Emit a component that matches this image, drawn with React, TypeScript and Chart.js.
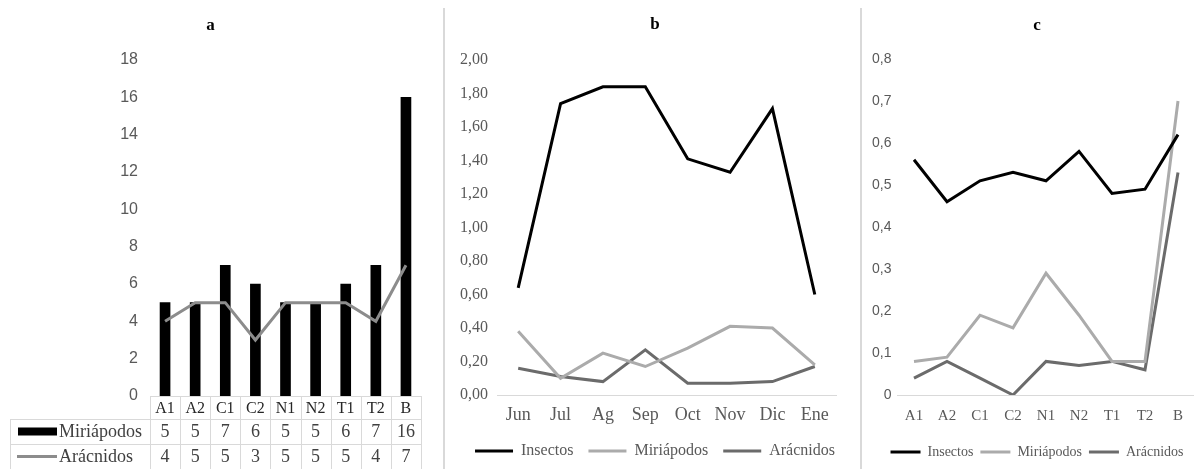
import React, { useEffect, useRef } from "react";
import { Chart, registerables } from "chart.js";

Chart.register(...registerables);

// ---------- Data ----------
const sitiosA = ["A1", "A2", "C1", "C2", "N1", "N2", "T1", "T2", "B"];
const miriapodosA = [5, 5, 7, 6, 5, 5, 6, 7, 16];
const aracnidosA = [4, 5, 5, 3, 5, 5, 5, 4, 7];

const meses = ["Jun", "Jul", "Ag", "Sep", "Oct", "Nov", "Dic", "Ene"];
const insectosB = [0.64, 1.74, 1.84, 1.84, 1.41, 1.33, 1.71, 0.6];
const miriapodosB = [0.38, 0.1, 0.25, 0.17, 0.28, 0.41, 0.4, 0.18];
const aracnidosB = [0.16, 0.11, 0.08, 0.27, 0.07, 0.07, 0.08, 0.17];

const sitiosC = ["A1", "A2", "C1", "C2", "N1", "N2", "T1", "T2", "B"];
const insectosC = [0.56, 0.46, 0.51, 0.53, 0.51, 0.58, 0.48, 0.49, 0.62];
const miriapodosC = [0.08, 0.09, 0.19, 0.16, 0.29, 0.19, 0.08, 0.08, 0.7];
const aracnidosC = [0.04, 0.08, 0.04, 0.0, 0.08, 0.07, 0.08, 0.06, 0.53];

// ---------- Styles ----------
const SERIF = '"Liberation Serif", "DejaVu Serif", serif';
const SANS = '"Liberation Sans", "DejaVu Sans", sans-serif';
const NEGRO = "#000000";
const GRIS_CLARO = "#ababab";
const GRIS_OSCURO = "#6b6b6b";
const GRIS_A = "#8c8c8c";
const TEXTO = "#595959";
const REJILLA = "#d9d9d9";

const fmt2 = (v: number) => v.toFixed(2).replace(".", ",");
const fmt1 = (v: number) => (v === 0 ? "0" : v.toFixed(1).replace(".", ","));

// Data table under panel a, aligned to the chart's category scale
const tablaPlugin = {
  id: "tablaDatos",
  afterDraw(chart: any) {
    const { ctx, chartArea } = chart;
    const xs = chart.scales.x;
    const labels: string[] = chart.data.labels;
    const n = labels.length;
    const w = (xs.right - xs.left) / n;
    const y0 = chartArea.bottom;
    const y1 = y0 + 23;
    const y2 = y1 + 25;
    const y3 = y2 + 25;
    const left = 10;
    ctx.save();
    ctx.strokeStyle = REJILLA;
    ctx.lineWidth = 1;
    ctx.beginPath();
    const seg = (a: number, b: number, c: number, d: number) => {
      ctx.moveTo(a, b);
      ctx.lineTo(c, d);
    };
    seg(xs.left, y0 + 0.5, xs.right, y0 + 0.5);
    seg(left, y1 + 0.5, xs.right, y1 + 0.5);
    seg(left, y2 + 0.5, xs.right, y2 + 0.5);
    seg(left, y3 + 0.5, xs.right, y3 + 0.5);
    seg(left + 0.5, y1, left + 0.5, y3);
    for (let k = 0; k <= n; k++) {
      const x = Math.round(xs.left + k * w) + 0.5;
      seg(x, y0, x, y3);
    }
    ctx.stroke();

    ctx.textAlign = "center";
    ctx.textBaseline = "middle";
    ctx.fillStyle = "#262626";
    ctx.font = `16px ${SERIF}`;
    labels.forEach((l, i) => ctx.fillText(l, xs.getPixelForValue(i), (y0 + y1) / 2 + 1));
    ctx.fillStyle = "#404040";
    ctx.font = `18px ${SERIF}`;
    const ds = chart.data.datasets;
    const bar = ds.find((d: any) => d.type === "bar");
    const line = ds.find((d: any) => d.type === "line");
    bar.data.forEach((v: number, i: number) => ctx.fillText(String(v), xs.getPixelForValue(i), (y1 + y2) / 2 + 1));
    line.data.forEach((v: number, i: number) => ctx.fillText(String(v), xs.getPixelForValue(i), (y2 + y3) / 2 + 1));

    // legend keys inside the table
    ctx.fillStyle = bar.backgroundColor;
    ctx.fillRect(18, (y1 + y2) / 2 - 4, 39, 8);
    ctx.strokeStyle = line.borderColor;
    ctx.lineWidth = 3;
    ctx.beginPath();
    ctx.moveTo(17, (y2 + y3) / 2);
    ctx.lineTo(57, (y2 + y3) / 2);
    ctx.stroke();
    ctx.textAlign = "left";
    ctx.fillStyle = "#404040";
    ctx.fillText(bar.label, 59, (y1 + y2) / 2 + 1);
    ctx.fillText(line.label, 59, (y2 + y3) / 2 + 1);
    ctx.restore();
  },
};

function ChartCanvas({ left, width, height, make }: { left: number; width: number; height: number; make: () => any }) {
  const ref = useRef<HTMLCanvasElement>(null);
  useEffect(() => {
    const chart = new Chart(ref.current as HTMLCanvasElement, make());
    return () => chart.destroy();
  }, []);
  return (
    <div style={{ position: "absolute", left, top: 0, width, height }}>
      <canvas ref={ref} width={width} height={height} style={{ width, height, display: "block" }} />
    </div>
  );
}

const titleOpts = (text: string, top: number, bottom: number) => ({
  display: true,
  text,
  color: NEGRO,
  font: { family: SERIF, size: 17, weight: "bold", lineHeight: 1.2 },
  padding: { top, bottom },
});

const legendOpts = (size: number, sample: number, pad: number) => ({
  display: true,
  position: "bottom",
  labels: {
    usePointStyle: true,
    pointStyle: "line",
    pointStyleWidth: sample,
    color: TEXTO,
    font: { family: SERIF, size },
    padding: pad,
  },
});

const lineDs = (label: string, data: number[], color: string) => ({
  label,
  data,
  borderColor: color,
  backgroundColor: color,
  borderWidth: 3,
  pointRadius: 0,
  tension: 0,
});

// invisible right-hand spacer axis so the full-width title/legend stay centred like the original
const spacer = (w: number) => ({
  type: "linear",
  position: "right",
  display: true,
  ticks: { display: false },
  grid: { display: false, drawTicks: false },
  border: { display: false },
  afterFit: (s: any) => {
    s.width = w;
  },
});

const configA = () => ({
  type: "bar",
  data: {
    labels: sitiosA,
    datasets: [
      { ...lineDs("Arácnidos", aracnidosA, GRIS_A), type: "line", order: 0 },
      { type: "bar", label: "Miriápodos", data: miriapodosA, backgroundColor: NEGRO, barThickness: 10, order: 1 },
    ],
  },
  options: {
    responsive: false,
    animation: false,
    devicePixelRatio: 1,
    layout: { padding: { left: 0, right: 21, top: 0, bottom: 73 } },
    plugins: {
      legend: { display: false },
      tooltip: { enabled: false },
      title: titleOpts("a", 15, 24.6),
    },
    scales: {
      x: { display: false },
      y: {
        min: 0,
        max: 18,
        ticks: { stepSize: 2, color: TEXTO, font: { family: SANS, size: 16 }, padding: 12 },
        grid: { display: false, drawTicks: false },
        border: { display: false },
        afterFit: (s: any) => {
          s.width = 150;
        },
      },
    },
  },
  plugins: [tablaPlugin],
});

const configB = () => ({
  type: "line",
  data: {
    labels: meses,
    datasets: [
      lineDs("Insectos", insectosB, NEGRO),
      lineDs("Miriápodos", miriapodosB, GRIS_CLARO),
      lineDs("Arácnidos", aracnidosB, GRIS_OSCURO),
    ],
  },
  options: {
    responsive: false,
    animation: false,
    devicePixelRatio: 1,
    layout: { padding: { left: 0, right: 0, top: 0, bottom: 0 } },
    plugins: {
      legend: legendOpts(16, 38, 15),
      tooltip: { enabled: false },
      title: titleOpts("b", 14, 25.6),
    },
    scales: {
      x: {
        offset: true,
        ticks: { color: TEXTO, font: { family: SERIF, size: 18 }, padding: 9 },
        grid: { display: false, drawTicks: false },
        border: { display: true, color: REJILLA, width: 1 },
        afterFit: (s: any) => {
          s.height = 33;
        },
      },
      y: {
        min: 0,
        max: 2,
        ticks: { stepSize: 0.2, color: TEXTO, font: { family: SERIF, size: 16 }, padding: 9, callback: (v: any) => fmt2(Number(v)) },
        grid: { display: false, drawTicks: false },
        border: { display: false },
        afterFit: (s: any) => {
          s.width = 52;
        },
      },
      derecha: spacer(29),
    },
  },
});

const configC = () => ({
  type: "line",
  data: {
    labels: sitiosC,
    datasets: [
      lineDs("Insectos", insectosC, NEGRO),
      lineDs("Miriápodos", miriapodosC, GRIS_CLARO),
      lineDs("Arácnidos", aracnidosC, GRIS_OSCURO),
    ],
  },
  options: {
    responsive: false,
    animation: false,
    devicePixelRatio: 1,
    layout: { padding: { left: 0, right: 0, top: 0, bottom: 0 } },
    plugins: {
      legend: legendOpts(14, 30, 7),
      tooltip: { enabled: false },
      title: titleOpts("c", 15, 23.6),
    },
    scales: {
      x: {
        offset: true,
        ticks: { color: TEXTO, font: { family: SERIF, size: 15 }, padding: 12 },
        grid: { display: false, drawTicks: false },
        border: { display: true, color: REJILLA, width: 1 },
        afterFit: (s: any) => {
          s.height = 43;
        },
      },
      y: {
        min: 0,
        max: 0.8,
        ticks: { stepSize: 0.1, color: TEXTO, font: { family: SANS, size: 14 }, padding: 6, callback: (v: any) => fmt1(Number(v)) },
        grid: { display: false, drawTicks: false },
        border: { display: false },
        afterFit: (s: any) => {
          s.width = 35.5;
        },
      },
      derecha: spacer(17.5),
    },
  },
});

export default function App() {
  return (
    <div style={{ position: "fixed", left: 0, top: 0, width: 1194, height: 469, background: "#fff", overflow: "hidden" }}>
      <ChartCanvas left={0} width={442} height={469} make={configA} />
      <div style={{ position: "absolute", left: 443, top: 8, width: 2, height: 461, background: REJILLA }} />
      <ChartCanvas left={445} width={420} height={469} make={configB} />
      <div style={{ position: "absolute", left: 860, top: 8, width: 2, height: 461, background: REJILLA }} />
      <ChartCanvas left={862} width={350} height={469} make={configC} />
    </div>
  );
}
